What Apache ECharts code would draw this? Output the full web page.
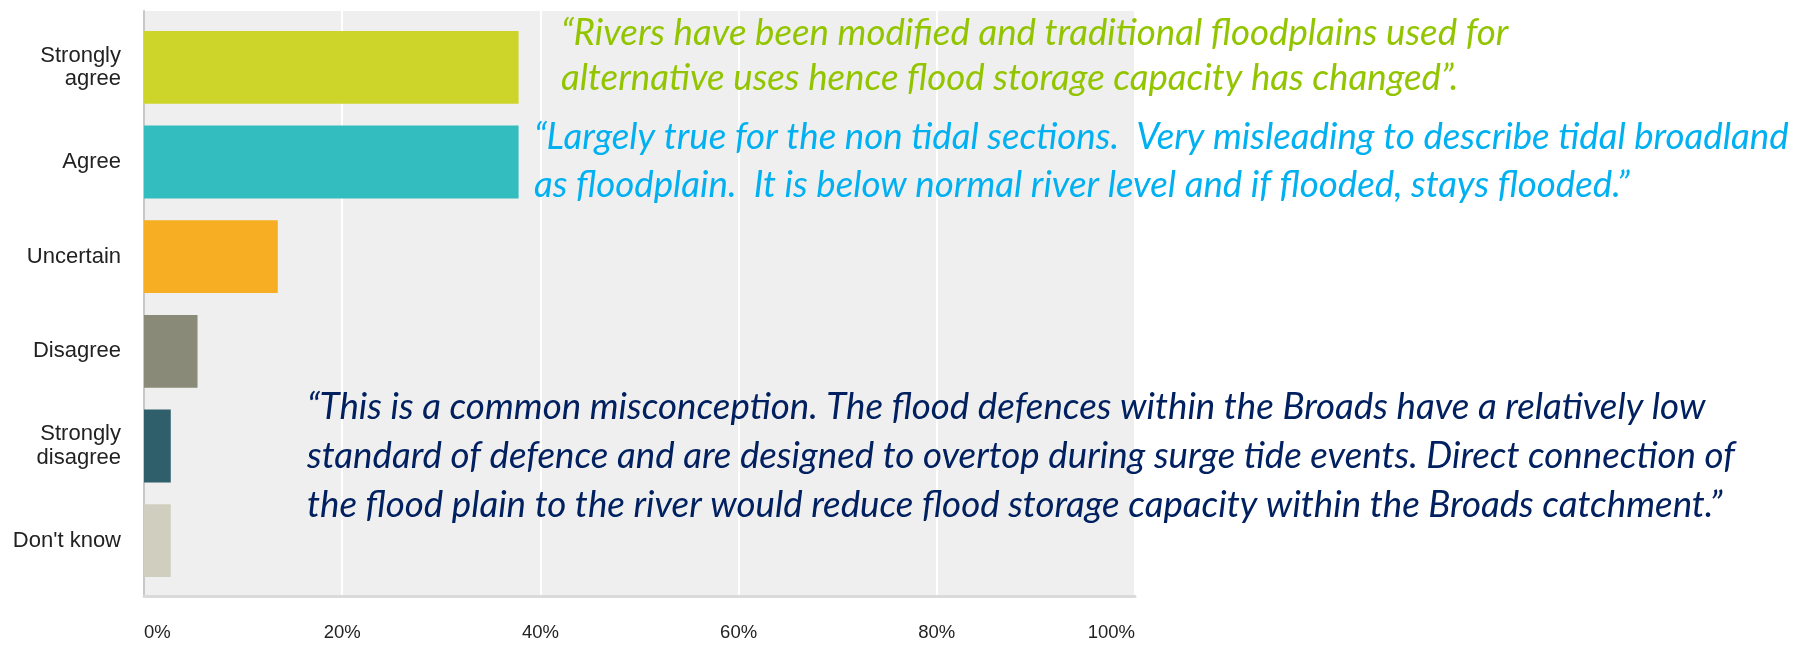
<!DOCTYPE html>
<html>
<head>
<meta charset="utf-8">
<title>Flood storage capacity</title>
<script src="https://cdn.jsdelivr.net/npm/echarts@6/dist/echarts.min.js"></script>
<style>
  html, body { margin: 0; padding: 0; background: #fff; }
  #barChart { width: 1796px; height: 645px; }
</style>
</head>
<body>
<div id="barChart"></div>
<script>
// answers, top to bottom
var categories = ['Strongly\nagree', 'Agree', 'Uncertain', 'Disagree', 'Strongly\ndisagree', "Don't know"];
// share of respondents (%)
var shares = [37.8, 37.8, 13.5, 5.4, 2.7, 2.7];
var barColors = ['#cdd52a', '#33bdbf', '#f7ae22', '#8a8a78', '#2f5f6b', '#d0cfbf'];

// quotes, one entry per line
var quoteGreen = [
  '\u201cRivers have been modified and traditional floodplains used for',
  'alternative uses hence flood storage capacity has changed\u201d.'
];
var quoteBlue = [
  '\u201cLargely true for the non tidal sections.  Very misleading to describe tidal broadland',
  'as floodplain.  It is below normal river level and if flooded, stays flooded.\u201d'
];
var quoteNavy = [
  '\u201cThis is a common misconception. The flood defences within the Broads have a relatively low',
  'standard of defence and are designed to overtop during surge tide events. Direct connection of',
  'the flood plain to the river would reduce flood storage capacity within the Broads catchment.\u201d'
];

function quoteLines(lines, x, y, gap, color) {
  return lines.map(function (t, i) {
    return {
      type: 'text',
      x: x,
      y: y + i * gap,
      z: 10,
      style: {
        text: t,
        fill: color,
        font: 'italic 36.7px Lato',
        textVerticalAlign: 'middle'
      }
    };
  });
}

var barChart = echarts.init(document.getElementById('barChart'));
barChart.setOption({
  animation: false,
  grid: [
    // grey panel with gridlines
    { left: 144, right: 661, top: 11, bottom: 49, show: true, backgroundColor: '#efefef', borderWidth: 0 },
    // bars
    { left: 144, right: 661, top: 20, bottom: 57 }
  ],
  xAxis: [
    {
      gridIndex: 0,
      type: 'value',
      min: 0,
      max: 100,
      interval: 20,
      axisLine: { show: true, lineStyle: { color: '#dadada', width: 3 } },
      axisTick: { show: false },
      splitLine: { show: true, lineStyle: { color: '#ffffff', width: 2 } },
      axisLabel: {
        color: '#222',
        fontFamily: 'Liberation Sans',
        fontSize: 18.5,
        margin: 27,
        alignMinLabel: 'left',
        alignMaxLabel: 'right',
        formatter: '{value}%'
      }
    },
    {
      gridIndex: 1,
      type: 'value',
      min: 0,
      max: 100,
      show: false
    }
  ],
  yAxis: [
    {
      gridIndex: 0,
      type: 'value',
      min: 0,
      max: 1,
      axisLine: { show: true, lineStyle: { color: '#c8c8c8', width: 2 } },
      axisTick: { show: false },
      axisLabel: { show: false },
      splitLine: { show: false }
    },
    {
      gridIndex: 1,
      type: 'category',
      inverse: true,
      data: categories,
      axisLine: { show: false },
      axisTick: { show: false },
      axisLabel: {
        color: '#222',
        fontFamily: 'Liberation Sans',
        fontSize: 22,
        lineHeight: 23.5,
        margin: 23,
        align: 'right'
      }
    }
  ],
  series: [
    {
      type: 'bar',
      xAxisIndex: 1,
      yAxisIndex: 1,
      barCategoryGap: '23%',
      data: shares,
      itemStyle: {
        color: function (params) {
          return barColors[params.dataIndex % barColors.length];
        }
      }
    }
  ],
  graphic: [].concat(
    quoteLines(quoteGreen, 561, 33.5, 44.5, '#92c500'),
    quoteLines(quoteBlue, 534, 137.5, 48, '#00b0f0'),
    quoteLines(quoteNavy, 307, 407.5, 49, '#002060')
  )
});
</script>
</body>
</html>
